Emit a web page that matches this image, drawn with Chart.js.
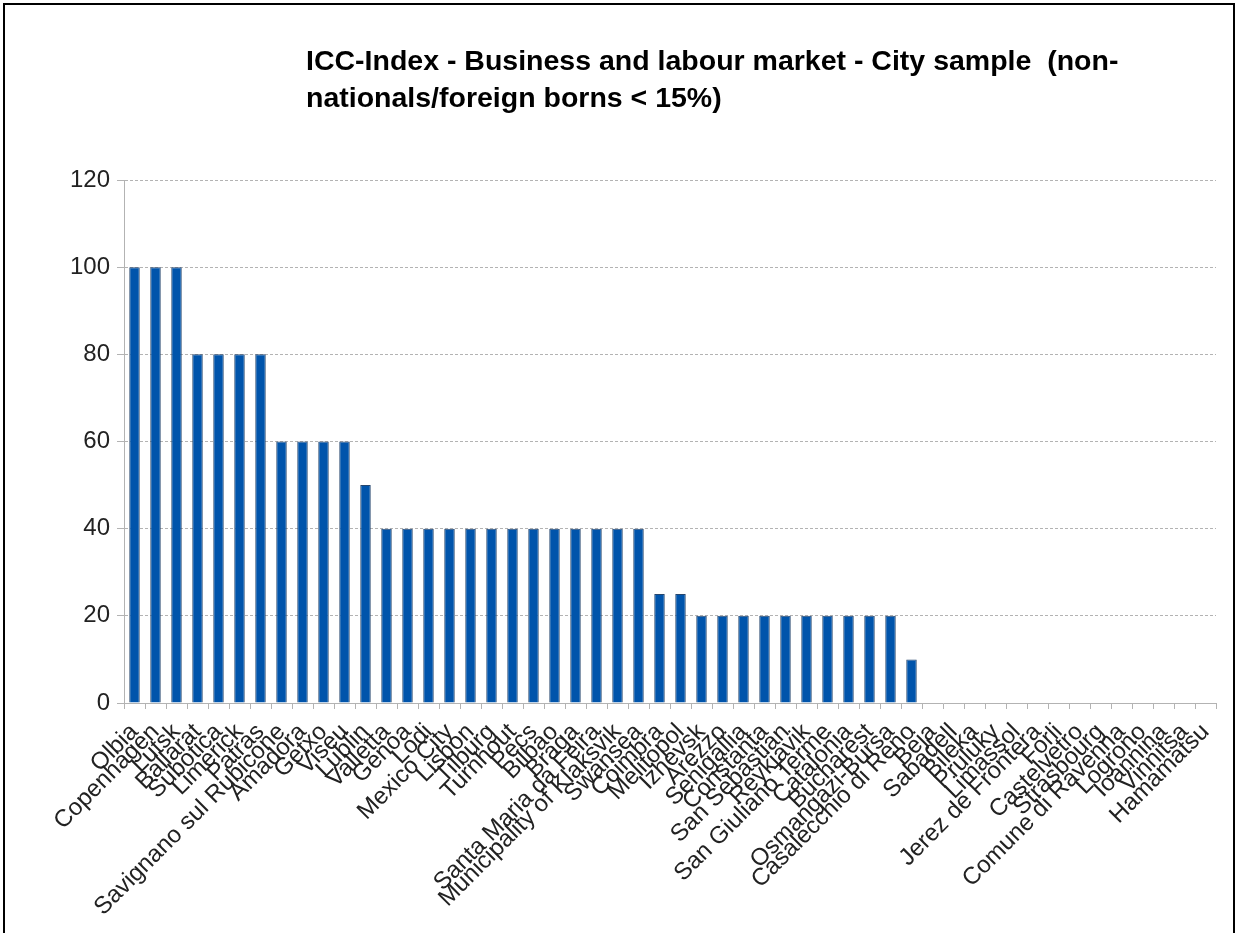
<!DOCTYPE html>
<html>
<head>
<meta charset="utf-8">
<script src="https://cdn.jsdelivr.net/npm/chart.js@4.4.1/dist/chart.umd.min.js"></script>
<style>
  html, body { margin: 0; padding: 0; background: #fff; }
  #wrap { position: relative; width: 1239px; height: 933px; overflow: hidden; }
  #frame { position: absolute; left: 3px; top: 3px; width: 1232px; height: 960px;
           border: 2px solid #000; box-sizing: border-box; pointer-events: none; }
  #title { position: absolute; left: 306px; top: 42px; font-family: "Liberation Sans", Arial, sans-serif;
           font-weight: bold; font-size: 28.5px; line-height: 37px; color: #000; white-space: pre; }
  canvas { position: absolute; left: 0; top: 0; }
</style>
</head>
<body>
<div id="wrap">
  <canvas id="c" width="1239" height="933"></canvas>
  <div id="title">ICC-Index - Business and labour market - City sample  (non-
nationals/foreign borns &lt; 15%)</div>
  <div id="frame"></div>
</div>
<script>
// City names along the x axis
const cities = [
  "Olbia", "Copenhagen", "Lutsk", "Ballarat", "Subotica", "Limerick", "Patras",
  "Savignano sul Rubicone", "Amadora", "Getxo", "Viseu", "Lublin", "Valletta",
  "Genoa", "Lodi", "Mexico City", "Lisbon", "Tilburg", "Turnhout", "Pecs",
  "Bilbao", "Braga", "Santa Maria da Feira", "Municipality of Klaksvik", "Swansea",
  "Coimbra", "Melitopol", "Izhevsk", "Arezzo", "Senigallia", "Constanta",
  "San Sebastian", "Reykjavik", "San Giuliano Terme", "Catalonia", "Bucharest",
  "Osmangazi-Bursa", "Casalecchio di Reno", "Beja", "Sabadell", "Bileka",
  "Pruluky", "Limassol", "Jerez de Frontera", "Forli", "Castelvetro",
  "Strasbourg", "Comune di Ravenna", "Logrono", "Ioannina", "Vinnitsa", "Hamamatsu"
];

// Business and labour market index score per city
const scores = [
  100, 100, 100, 80, 80, 80, 80,
  60, 60, 60, 60, 50, 40,
  40, 40, 40, 40, 40, 40, 40,
  40, 40, 40, 40, 40,
  25, 25, 20, 20, 20, 20,
  20, 20, 20, 20, 20,
  20, 10, 0, 0, 0,
  0, 0, 0, 0, 0,
  0, 0, 0, 0, 0, 0
];

// Value axis tick values
const yTicks = [0, 20, 40, 60, 80, 100, 120];

const FONT = "'Liberation Sans', Arial, sans-serif";

new Chart(document.getElementById('c'), {
  type: 'bar',
  data: {
    labels: cities,
    datasets: [{
      data: scores,
      backgroundColor: '#0054ab',
      borderColor: '#26466e',
      borderWidth: 1,
      barPercentage: 0.5,
      categoryPercentage: 1.0
    }]
  },
  options: {
    responsive: false,
    animation: false,
    layout: { padding: { top: 180, right: 23, left: 0, bottom: 0 } },
    plugins: { legend: { display: false }, tooltip: { enabled: false } },
    scales: {
      x: {
        grid: { display: true, drawOnChartArea: false, offset: true, color: '#b3b3b3', tickLength: 6 },
        border: { display: true, color: '#b3b3b3', width: 1 },
        ticks: {
          autoSkip: false, minRotation: 45, maxRotation: 45, padding: 9,
          color: '#222', font: { family: FONT, size: 24 }
        },
        afterFit(scale) { scale.height = 230; }
      },
      y: {
        min: 0, max: 120,
        afterBuildTicks(scale) { scale.ticks = yTicks.map(v => ({ value: v })); },
        grid: { color: '#b3b3b3', tickLength: 7, tickBorderDash: [] },
        border: { display: true, color: '#b3b3b3', width: 1, dash: [3, 2] },
        ticks: { color: '#222', padding: 7, font: { family: FONT, size: 24 } },
        afterFit(scale) { scale.width = 124; }
      }
    }
  }
});
</script>
</body>
</html>
